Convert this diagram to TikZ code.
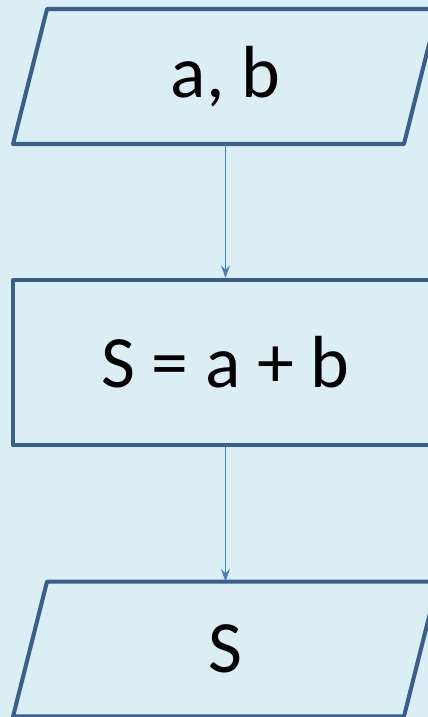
\documentclass[tikz,border=0pt]{standalone}
\usepackage{fontspec}
\setmainfont{Carlito}
\usetikzlibrary{arrows.meta, positioning}

\definecolor{bgblue}{HTML}{DBEEF4}
\definecolor{frameblue}{HTML}{3A5F8B}
\definecolor{lineblue}{HTML}{4A7EBB}

\begin{document}
\begin{tikzpicture}[
  x=0.02cm, y=-0.02cm,
  font=\fontsize{42}{50}\selectfont,
  io/.style={rectangle, minimum width=8.5cm, minimum height=2.7cm,
             inner sep=0pt, outer sep=0pt},
  frame/.style={draw=frameblue, line width=2.3pt, line join=round},
  proc/.style={rectangle, frame, minimum width=8.5cm, minimum height=3.3cm,
               inner sep=0pt},
  arr/.style={-{Stealth[length=7pt, width=5pt]}, draw=lineblue, line width=1.1pt}
]

\fill[bgblue] (0,0) rectangle (428,717);
\clip (0,0) rectangle (428,717);

\node[io] (input) at (225.5, 76.5) {a, b};
\draw[frame] ([xshift=0.68cm]input.north west) -- (input.north east)
  -- ([xshift=-0.68cm]input.south east) -- (input.south west) -- cycle;

\node[proc] (sum) at (225.5, 362.5) {S = a + b};

\node[io] (output) at (225.5, 649) {S};
\draw[frame] ([xshift=0.68cm]output.north west) -- (output.north east)
  -- ([xshift=-0.68cm]output.south east) -- (output.south west) -- cycle;

\draw[arr] (input.south) -- (sum.north);
\draw[arr] (sum.south) -- (output.north);

\end{tikzpicture}
\end{document}
